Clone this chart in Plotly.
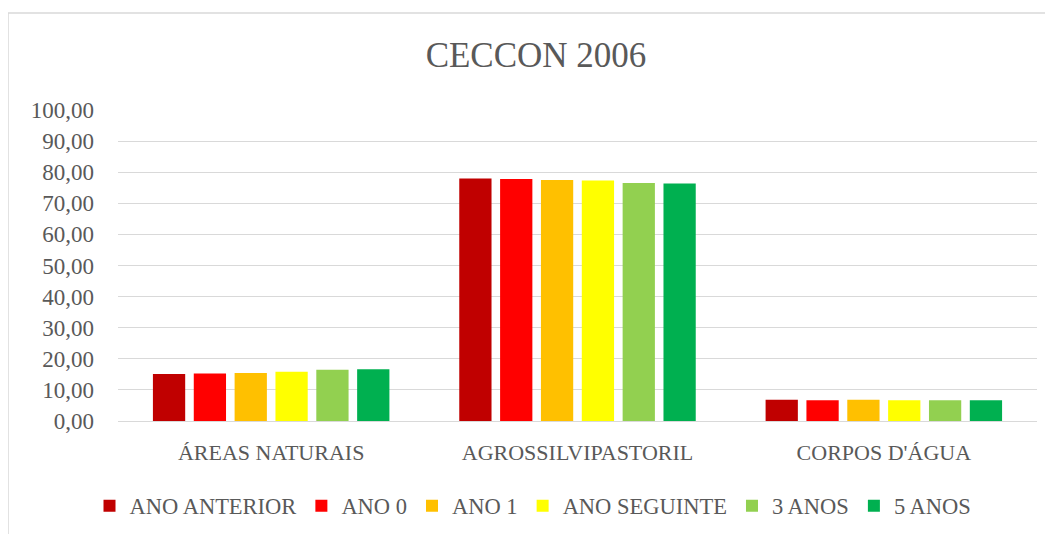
import plotly.graph_objects as go

categories = ["ÁREAS NATURAIS", "AGROSSILVIPASTORIL", "CORPOS D'ÁGUA"]
series_names = ["ANO ANTERIOR", "ANO 0", "ANO 1", "ANO SEGUINTE", "3 ANOS", "5 ANOS"]
ano_anterior = [15.1, 78.0, 6.8]
ano_0 = [15.3, 77.8, 6.7]
ano_1 = [15.4, 77.5, 6.8]
ano_seguinte = [15.8, 77.3, 6.7]
tres_anos = [16.5, 76.5, 6.7]
cinco_anos = [16.6, 76.4, 6.7]
colors = ["#C00000", "#FF0000", "#FFC000", "#FFFF00", "#92D050", "#00B050"]
y_ticks = [0, 10, 20, 30, 40, 50, 60, 70, 80, 90, 100]
y_tick_labels = [f"{v},00" for v in y_ticks]

values = [ano_anterior, ano_0, ano_1, ano_seguinte, tres_anos, cinco_anos]

FONT = "Liberation Serif"
GREY = "#595959"

fig = go.Figure()
for name, vals, col in zip(series_names, values, colors):
    fig.add_trace(go.Bar(x=categories, y=vals, name=name, marker=dict(color=col, line=dict(width=0))))

# page body has an 8px margin, so figure coords = screen coords - 8
OFF = 8
W, H = 1045, 526
L, R, T = 118 - OFF, 16, 110 - OFF
B = H - (421 - OFF)
pw = W - L - R
ph = H - T - B


def px_x(sx):
    return (sx - OFF - L) / pw


def px_y(sy):
    return ((421 - OFF) - (sy - OFF)) / ph


fig.update_layout(
    width=W, height=H,
    margin=dict(l=L, r=R, t=T, b=B, autoexpand=False),
    paper_bgcolor="white", plot_bgcolor="white",
    barmode="group", bargap=0.2, bargroupgap=0.21,
    font=dict(family=FONT, color=GREY, size=22),
    title=dict(text="CECCON 2006", x=(536 - OFF) / W, xanchor="center", y=1 - (55 - OFF) / H, yanchor="middle",
               font=dict(family=FONT, size=35, color=GREY)),
    legend=dict(orientation="h", x=px_x(533), xanchor="center", y=px_y(506), yanchor="middle",
                font=dict(family=FONT, size=22.5, color=GREY), itemsizing="constant", traceorder="normal"),
    xaxis=dict(showgrid=False, showline=False, ticks="", tickfont=dict(size=22, color=GREY),
               ticklabelstandoff=16, automargin=False),
    yaxis=dict(range=[0, 100], tickvals=y_ticks, ticktext=y_tick_labels, showgrid=True,
               gridcolor="#D9D9D9", gridwidth=1, zeroline=True, zerolinecolor="#D9D9D9", zerolinewidth=1,
               showline=False, ticks="", tickfont=dict(size=23, color=GREY), ticklabelstandoff=23,
               automargin=False),
    shapes=[dict(type="rect", xref="paper", yref="paper",
                 x0=px_x(8), x1=px_x(1080), y0=px_y(560), y1=px_y(13),
                 line=dict(color="#D9D9D9", width=1.5), fillcolor="rgba(0,0,0,0)", layer="below")],
)

fig.write_html("out.html")
